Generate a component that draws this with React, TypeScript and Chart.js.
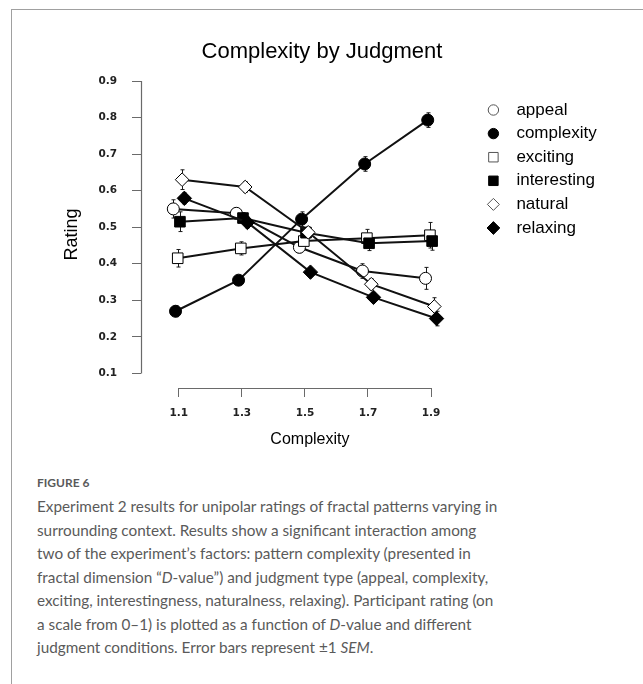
import React, { useEffect, useRef } from "react";
import { Chart, registerables } from "chart.js";
import { drawPoint } from "chart.js/helpers";

Chart.register(...registerables);

// Fractal dimension (D-value) levels on the x axis
const dValues = [1.1, 1.3, 1.5, 1.7, 1.9];
const yTickValues = [0.1, 0.2, 0.3, 0.4, 0.5, 0.6, 0.7, 0.8, 0.9];

const judgments = ["appeal", "complexity", "exciting", "interesting", "natural", "relaxing"];

// Mean ratings per judgment at each D-value
const appeal = [0.55, 0.538, 0.445, 0.38, 0.36];
const complexity = [0.27, 0.355, 0.522, 0.673, 0.793];
const exciting = [0.415, 0.442, 0.462, 0.47, 0.478];
const interesting = [0.515, 0.525, 0.485, 0.456, 0.462];
const natural = [0.63, 0.61, 0.486, 0.344, 0.283];
const relaxing = [0.579, 0.513, 0.377, 0.308, 0.25];

// Standard error of the mean for each point
const appealSem = [0.025, 0.015, 0.015, 0.02, 0.03];
const complexitySem = [0.015, 0.012, 0.02, 0.02, 0.02];
const excitingSem = [0.024, 0.018, 0.015, 0.024, 0.035];
const interestingSem = [0.027, 0.015, 0.015, 0.02, 0.025];
const naturalSem = [0.027, 0.015, 0.015, 0.015, 0.024];
const relaxingSem = [0.015, 0.015, 0.012, 0.012, 0.02];

const seriesValues = [appeal, complexity, exciting, interesting, natural, relaxing];
const seriesSem = [appealSem, complexitySem, excitingSem, interestingSem, naturalSem, relaxingSem];

// Marker look for each judgment (hollow / filled circle, square, diamond)
const markers = [
  { pointStyle: "circle", radius: 6, fill: "#ffffff" },
  { pointStyle: "circle", radius: 6, fill: "#000000" },
  { pointStyle: "rect", radius: 7.5, fill: "#ffffff" },
  { pointStyle: "rect", radius: 7.5, fill: "#000000" },
  { pointStyle: "rectRot", radius: 6.8, fill: "#ffffff" },
  { pointStyle: "rectRot", radius: 7.2, fill: "#000000" },
];

// Small horizontal dodge so overlapping markers stay visible
const DODGE_STEP = 0.007;

const TITLE_FONT = "'Liberation Sans', Arial, Helvetica, sans-serif";
const TICK_FONT = "'DejaVu Sans', sans-serif";

const datasets = judgments.map((name, i) => ({
  label: name,
  data: seriesValues[i].map((v, j) => ({ x: dValues[j] + (i - 2.5) * DODGE_STEP, y: v })),
  borderColor: "#111111",
  borderWidth: 2,
  pointStyle: markers[i].pointStyle,
  pointRadius: markers[i].radius,
  pointHoverRadius: markers[i].radius,
  pointBackgroundColor: markers[i].fill,
  pointBorderColor: "#000000",
  pointBorderWidth: 1,
  order: judgments.length - i,
  tension: 0,
  fill: false,
}));

// Vertical ±1 SEM bars behind the markers
const errorBars = {
  id: "errorBars",
  beforeDatasetsDraw(chart: any) {
    const { ctx } = chart;
    const yScale = chart.scales.y;
    ctx.save();
    ctx.strokeStyle = "#1a1a1a";
    ctx.lineWidth = 1;
    chart.data.datasets.forEach((_ds: any, i: number) => {
      const meta = chart.getDatasetMeta(i);
      meta.data.forEach((pt: any, j: number) => {
        const v = seriesValues[i][j];
        const e = seriesSem[i][j];
        const top = yScale.getPixelForValue(v + e);
        const bot = yScale.getPixelForValue(v - e);
        const px = Math.round(pt.x) + 0.5;
        ctx.beginPath();
        ctx.moveTo(px, top);
        ctx.lineTo(px, bot);
        ctx.moveTo(px - 2, top);
        ctx.lineTo(px + 2, top);
        ctx.moveTo(px - 2, bot);
        ctx.lineTo(px + 2, bot);
        ctx.stroke();
      });
    });
    ctx.restore();
  },
};

// Axis spines that span only the tick range
const rangeFrame = {
  id: "rangeFrame",
  beforeDatasetsDraw(chart: any) {
    const { ctx, chartArea } = chart;
    const { x, y } = chart.scales;
    ctx.save();
    ctx.strokeStyle = "#6a6a6a";
    ctx.lineWidth = 1.2;
    const yl = Math.round(chartArea.left) + 0.5;
    const xb = Math.round(chartArea.bottom) + 0.5;
    ctx.beginPath();
    ctx.moveTo(yl, y.getPixelForValue(yTickValues[0]));
    ctx.lineTo(yl, y.getPixelForValue(yTickValues[yTickValues.length - 1]));
    ctx.moveTo(x.getPixelForValue(dValues[0]), xb);
    ctx.lineTo(x.getPixelForValue(dValues[dValues.length - 1]), xb);
    ctx.stroke();
    ctx.restore();
  },
};

// Chart title and x-axis title, centred on the figure / axis span
const titles = {
  id: "titles",
  afterDraw(chart: any) {
    const { ctx } = chart;
    const { x } = chart.scales;
    ctx.save();
    ctx.fillStyle = "#000000";
    ctx.textAlign = "center";
    ctx.textBaseline = "middle";
    ctx.font = `22px ${TITLE_FONT}`;
    ctx.fillText("Complexity by Judgment", 322, 52);
    ctx.font = `16px ${TITLE_FONT}`;
    const mid = (x.getPixelForValue(dValues[0]) + x.getPixelForValue(dValues[dValues.length - 1])) / 2;
    ctx.fillText("Complexity", mid + 5, 440);
    ctx.restore();
  },
};

// Legend column to the right of the plot
const sideLegend = {
  id: "sideLegend",
  afterDraw(chart: any) {
    const { ctx, chartArea } = chart;
    const mx = chartArea.right + 34;
    const tx = chartArea.right + 57;
    const y0 = chartArea.top + 29;
    const step = 23.6;
    ctx.save();
    ctx.font = `17px ${TITLE_FONT}`;
    ctx.textBaseline = "middle";
    ctx.textAlign = "left";
    chart.data.datasets.forEach((ds: any, i: number) => {
      const yy = y0 + i * step;
      ctx.fillStyle = markers[i].fill;
      ctx.strokeStyle = markers[i].fill === "#ffffff" ? "#555555" : "#000000";
      ctx.lineWidth = 1;
      drawPoint(ctx, { pointStyle: markers[i].pointStyle, radius: markers[i].radius - 0.8, rotation: 0, borderWidth: 1 } as any, mx, yy);
      ctx.fillStyle = "#000000";
      ctx.fillText(ds.label, tx, yy);
    });
    ctx.restore();
  },
};

export default function App() {
  const canvasRef = useRef<HTMLCanvasElement>(null);

  useEffect(() => {
    if (!canvasRef.current) return;
    const chart = new Chart(canvasRef.current, {
      type: "line",
      data: { datasets: datasets as any },
      options: {
        animation: false,
        responsive: false,
        events: [],
        layout: { padding: { top: 81, left: 10, right: 183.6, bottom: 6 } },
        plugins: {
          legend: { display: false },
          tooltip: { enabled: false },
          title: { display: false },
        },
        scales: {
          x: {
            type: "linear",
            min: 0.98,
            max: 1.99,
            afterBuildTicks: (scale: any) => {
              scale.ticks = dValues.map((v) => ({ value: v }));
            },
            afterFit: (scale: any) => {
              scale.height = 66;
            },
            ticks: {
              color: "#222222",
              font: { family: TICK_FONT, size: 10.5, weight: "bold" },
              padding: 10,
              maxRotation: 0,
              autoSkip: false,
              callback: (v: any) => Number(v).toFixed(1),
            },
            grid: { display: true, drawOnChartArea: false, drawTicks: true, tickLength: 9, color: "#6a6a6a", lineWidth: 1 },
            border: { display: false },
          },
          y: {
            type: "linear",
            min: 0.06,
            max: 0.9,
            afterBuildTicks: (scale: any) => {
              scale.ticks = yTickValues.map((v) => ({ value: v }));
            },
            afterFit: (scale: any) => {
              scale.width = 131;
            },
            ticks: {
              color: "#222222",
              font: { family: TICK_FONT, size: 10.5, weight: "bold" },
              padding: 15,
              autoSkip: false,
              callback: (v: any) => Number(v).toFixed(1),
            },
            grid: { display: true, drawOnChartArea: false, drawTicks: true, tickLength: 9, color: "#6a6a6a", lineWidth: 1 },
            border: { display: false },
            title: {
              display: true,
              text: "Rating",
              color: "#000000",
              font: { family: TITLE_FONT, size: 18, weight: "normal" },
              padding: { top: 51.2, bottom: 4 },
            },
          },
        },
      },
      plugins: [rangeFrame, errorBars, titles, sideLegend],
    } as any);
    return () => chart.destroy();
  }, []);

  const captionFont = "Lato, 'Open Sans', sans-serif";
  const lineStyle: React.CSSProperties = { whiteSpace: "nowrap", height: 23.5 };

  return (
    <div style={{ position: "fixed", left: 0, top: 0, width: 643, height: 684, background: "#ffffff", overflow: "hidden" }}>
      <div
        style={{
          position: "absolute",
          left: 11,
          top: 9,
          width: 700,
          height: 700,
          borderTop: "1px solid #a0a0a0",
          borderLeft: "1px solid #a0a0a0",
        }}
      />
      <div style={{ position: "absolute", left: 0, top: 0, width: 643, height: 460 }}>
        <canvas ref={canvasRef} width={643} height={460} style={{ display: "block" }} />
      </div>
      <div
        style={{
          position: "absolute",
          left: 37,
          top: 475,
          fontFamily: captionFont,
          fontSize: 12,
          fontWeight: 700,
          lineHeight: "16px",
          color: "#5a5a5a",
        }}
      >
        FIGURE 6
      </div>
      <div
        style={{
          position: "absolute",
          left: 37,
          top: 495,
          fontFamily: captionFont,
          fontSize: 15.3,
          fontWeight: 400,
          lineHeight: "23.5px",
          color: "#5a5a5a",
        }}
      >
        <div style={lineStyle}>Experiment 2 results for unipolar ratings of fractal patterns varying in</div>
        <div style={lineStyle}>surrounding context. Results show a significant interaction among</div>
        <div style={lineStyle}>two of the experiment’s factors: pattern complexity (presented in</div>
        <div style={lineStyle}>
          fractal dimension “<i>D</i>-value”) and judgment type (appeal, complexity,
        </div>
        <div style={lineStyle}>exciting, interestingness, naturalness, relaxing). Participant rating (on</div>
        <div style={lineStyle}>
          a scale from 0–1) is plotted as a function of <i>D</i>-value and different
        </div>
        <div style={lineStyle}>
          judgment conditions. Error bars represent ±1 <i>SEM</i>.
        </div>
      </div>
    </div>
  );
}
